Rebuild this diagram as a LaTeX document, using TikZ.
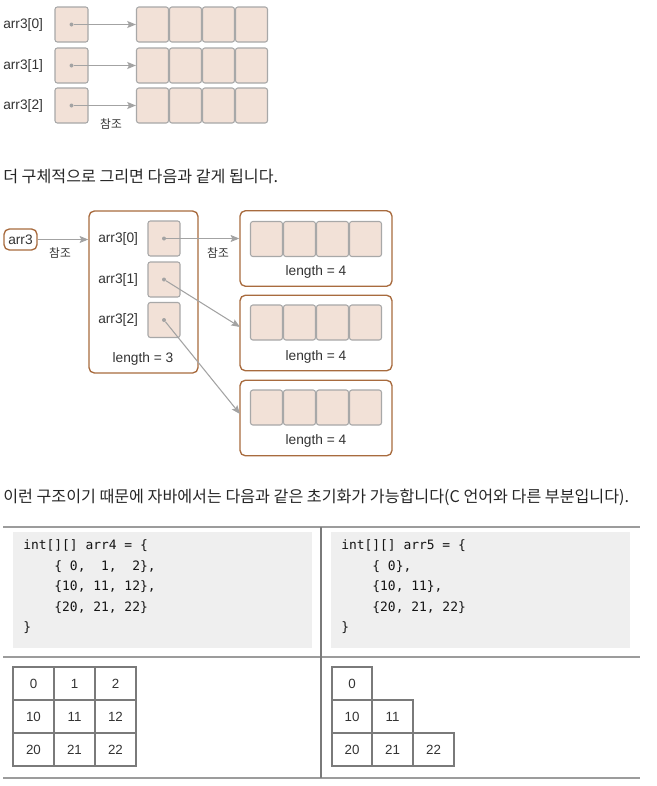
\documentclass[tikz,border=0pt]{standalone}
\usepackage{fontspec}
\setmainfont{Liberation Sans}
\newfontfamily\krfont{Noto Sans CJK KR}
\newfontfamily\codefont{DejaVu Sans Mono}
\usetikzlibrary{arrows.meta}
\definecolor{cellfill}{HTML}{F2E1D7}
\definecolor{cellline}{HTML}{A8A8A8}
\definecolor{framebrown}{HTML}{A86B3E}
\definecolor{arrowgray}{HTML}{A3A3A3}
\definecolor{txt}{HTML}{333333}
\definecolor{codebg}{HTML}{EFEFEF}
\definecolor{rulegray}{HTML}{9C9C9C}
\definecolor{gridgray}{HTML}{7A7A7A}
\tikzset{
  cellbox/.style={draw=cellline, fill=cellfill, rounded corners=1.8pt, line width=0.8pt,
    minimum width=32*0.75pt, minimum height=35*0.75pt, inner sep=0pt},
  ptrbox/.style={cellbox, minimum width=33*0.75pt},
  framebox/.style={draw=framebrown, fill=white, rounded corners=4pt, line width=1pt, inner sep=0pt},
  lbl/.style={font=\fontsize{10.3pt}{12pt}\selectfont, text=txt, inner sep=0pt},
  krlbl/.style={font=\krfont\fontsize{8.8pt}{10pt}\selectfont, text=txt, inner sep=0pt},
  krbody/.style={font=\krfont\fontsize{12.1pt}{14pt}\selectfont, text=black!85, inner sep=0pt, anchor=west},
  refarrow/.style={draw=arrowgray, line width=0.8pt, -{Stealth[length=6.5pt,width=5.2pt,inset=1.2pt]}},
  dotmark/.style={circle, fill=arrowgray, inner sep=0pt, minimum size=3pt},
  codeline/.style={font=\codefont\fontsize{9.7pt}{11pt}\selectfont, text=black!92, inner sep=0pt, anchor=west},
  gridcell/.style={draw=gridgray, line width=0.9pt, minimum width=41*0.75pt, minimum height=33*0.75pt,
    inner sep=0pt, font=\fontsize{10pt}{12pt}\selectfont, text=txt},
  rule/.style={draw=rulegray, line width=1.5pt},
}
\begin{document}
\begin{tikzpicture}[x=0.75pt, y=-0.75pt]
\useasboundingbox (0,0) rectangle (657,786);

% ---------- top section ----------
\foreach \r/\y in {0/24.5, 1/65.5, 2/105.5}{
  \node[lbl, anchor=west] (tl\r) at (3,\y) {arr3[\r]};
  \node[ptrbox] (tp\r) at (71.5,\y) {};
  \node[dotmark] (td\r) at (71.5,\y) {};
  \foreach \c/\x in {0/152.5, 1/185.5, 2/218.5, 3/251.5}{
    \node[cellbox] (ta\r\c) at (\x,\y) {};
  }
  \draw[refarrow] (td\r) -- (ta\r0.west);
}
\node[krlbl] (tref) at (111,124) {참조};

% ---------- sentence 1 ----------
\node[krbody] (s1) at (3,176) {더 구체적으로 그리면 다음과 같게 됩니다.};

% ---------- middle diagram ----------
\node[framebox, minimum width=33*0.75pt, minimum height=21*0.75pt, lbl] (arr3) at (20.5,239.5) {arr3};
\node[framebox, minimum width=109*0.75pt, minimum height=162*0.75pt] (big) at (143.5,292) {};
\draw[refarrow] (arr3.east) -- (arr3.east -| big.west);
\node[krlbl] (mref1) at (60,253) {참조};

\foreach \r/\y in {0/238.5, 1/279.5, 2/320}{
  \node[lbl, anchor=west] (ml\r) at (98,\y) {arr3[\r]};
  \node[ptrbox, minimum width=32*0.75pt] (mp\r) at (164,\y) {};
  \node[dotmark] (md\r) at (164,\y) {};
}
\node[lbl] (len3) at (143,359) {length = 3};

\foreach \k/\yc/\yf in {0/239/248.5, 1/322.5/333, 2/407.5/418}{
  \node[framebox, minimum width=152*0.75pt, minimum height=75.5*0.75pt] (rf\k) at (316,\yf) {};
  \foreach \c/\x in {0/266.5, 1/299.5, 2/332.5, 3/365.5}{
    \node[cellbox] (rc\k\c) at (\x,\yc) {};
  }
}
\node[lbl] (len40) at (316,272) {length = 4};
\node[lbl] (len41) at (316,357) {length = 4};
\node[lbl] (len42) at (316,441) {length = 4};

\coordinate (t1) at (240,327);
\coordinate (t2) at (240,414);
\draw[refarrow] (md0) -- (md0 -| rf0.west);
\draw[refarrow] (md1) -- (t1);
\draw[refarrow] (md2) -- (t2);
\node[krlbl] (mref2) at (218,253) {참조};

% ---------- sentence 2 ----------
\node[krbody] (s2) at (3,497) {이런 구조이기 때문에 자바에서는 다음과 같은 초기화가 가능합니다(C 언어와 다른 부분입니다).};

% ---------- table ----------
\draw[rule] (3,527) -- (640,527);
\draw[draw=rulegray, line width=1pt] (3,657) -- (640,657);
\draw[rule] (3,778) -- (640,778);
\draw[draw=gridgray, line width=0.8pt] (321,527) -- (321,778);

\fill[codebg] (13,532) rectangle (312,648);
\fill[codebg] (331,532) rectangle (630,648);

\node[codeline] (ca0) at (23,546) {int[][] arr4 = \{};
\node[codeline] (ca1) at (23,566.5) {\ \ \ \ \{ 0,\ \ 1,\ \ 2\},};
\node[codeline] (ca2) at (23,587) {\ \ \ \ \{10, 11, 12\},};
\node[codeline] (ca3) at (23,607.5) {\ \ \ \ \{20, 21, 22\}};
\node[codeline] (ca4) at (23,628) {\}};

\node[codeline] (cb0) at (341,546) {int[][] arr5 = \{};
\node[codeline] (cb1) at (341,566.5) {\ \ \ \ \{ 0\},};
\node[codeline] (cb2) at (341,587) {\ \ \ \ \{10, 11\},};
\node[codeline] (cb3) at (341,607.5) {\ \ \ \ \{20, 21, 22\}};
\node[codeline] (cb4) at (341,628) {\}};

% left grid
\foreach \r/\y in {0/683.5, 1/716.5, 2/749.5}{
  \foreach \c/\x in {0/33.5, 1/74.5, 2/115.5}{
    \pgfmathtruncatemacro{\v}{10*\r+\c}
    \node[gridcell] (ga\r\c) at (\x,\y) {\v};
  }
}
% right grid (jagged)
\node[gridcell, minimum width=40*0.75pt] (gb00) at (352,683.5) {0};
\node[gridcell, minimum width=40*0.75pt] (gb10) at (352,716.5) {10};
\node[gridcell] (gb11) at (392.5,716.5) {11};
\node[gridcell, minimum width=40*0.75pt] (gb20) at (352,749.5) {20};
\node[gridcell] (gb21) at (392.5,749.5) {21};
\node[gridcell] (gb22) at (433.5,749.5) {22};
\end{tikzpicture}
\end{document}
